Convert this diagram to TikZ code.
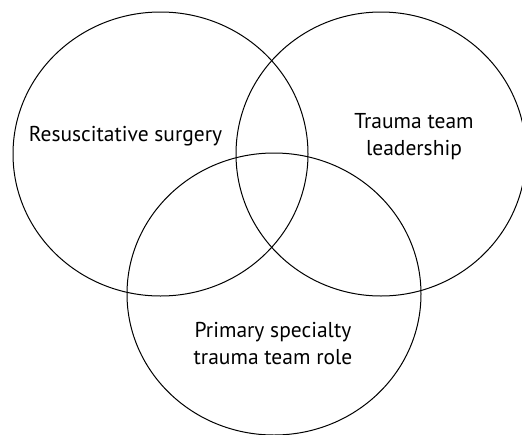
\documentclass[tikz,border=0pt]{standalone}
\usepackage{fontspec}
\setmainfont{PT Sans}[Ligatures=NoCommon]
\usetikzlibrary{shapes.geometric}

\tikzset{
	venn/.style={draw, ellipse, line width=1pt, inner sep=0pt},
	vennlabel/.style={align=center, font=\fontsize{21.5}{27}\selectfont}
}

\begin{document}
\begin{tikzpicture}[x=1pt, y=-1pt]
		\useasboundingbox (0,0) rectangle (522,434);
		\clip (0,0) rectangle (522,434);
		% the three sets
		\node[venn, minimum width=295pt, minimum height=284pt] (surgery) at (160.5,154) {};
		\node[venn, minimum width=290pt, minimum height=284pt] (leader) at (381,154) {};
		\node[venn, minimum width=294pt, minimum height=282pt] (role) at (274,294) {};
		% labels
		\node[vennlabel] (surgerytext) at (125.5,136) {Resuscitative surgery};
		\node[vennlabel] (leadertext) at (414,137) {Trauma team\\leadership};
		\node[vennlabel] (roletext) at (273,344) {Primary specialty\\trauma team role};
	\end{tikzpicture}
\end{document}
